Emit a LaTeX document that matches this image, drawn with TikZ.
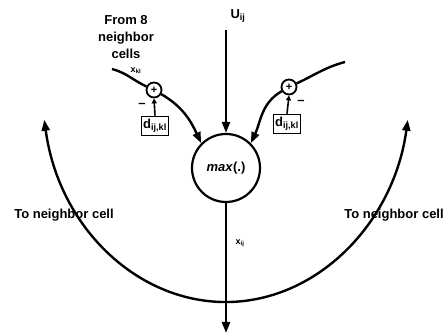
\documentclass[tikz,border=0pt]{standalone}
\usepackage{fontspec}
\setmainfont{Liberation Sans}
\usetikzlibrary{
    arrows.meta,
    positioning,
    calc
}
\tikzset{
    % Cell node style
    cell/.style={
        circle,
        draw,
        line width=2.2pt,
        minimum size=68pt,
        inner sep=0pt,
        font=\fontsize{13}{13}\selectfont\bfseries
    },
    % Summing junction style
    adder/.style={
        circle,
        draw,
        line width=1.8pt,
        minimum size=15pt,
        inner sep=0pt,
        font=\fontsize{11}{11}\selectfont\bfseries
    },
    % Weight box style
    weight/.style={
        rectangle,
        draw,
        line width=1.6pt,
        minimum width=27pt,
        minimum height=19pt,
        inner sep=1pt,
        font=\fontsize{13}{13}\selectfont\bfseries
    },
    % Arrow styles
    flow/.style={
        -{Triangle[length=11pt, width=8pt]},
        line width=2.4pt
    },
    feed/.style={
        -{Triangle[length=5pt, width=5pt]},
        line width=1.6pt
    },
    % Label styles
    label text/.style={
        font=\fontsize{13}{17}\selectfont\bfseries,
        align=center
    },
    small text/.style={
        font=\fontsize{9}{9}\selectfont\bfseries
    }
}

\begin{document}
\begin{tikzpicture}[x=1pt, y=1pt]
        \useasboundingbox (0,0) rectangle (448,336);

        % Cell and its inputs
        \node[cell] (cell) at (226,168) {\textit{max}(.)};
        \node[adder] (lplus) at (154,246) {+};
        \node[adder] (rplus) at (289,249) {+};
        \node[weight] (lw) at (155,210) {d\textsubscript{ij,kl}};
        \node[weight] (rw) at (287,212) {d\textsubscript{ij,kl}};

        % Labels
        \node[label text] (from) at (126,299) {From 8\\neighbor\\cells};
        \node[small text] (xkl) at (136,265) {x\textsubscript{kl}};
        \node[label text] (uin) at (238,320) {U\textsubscript{ij}};
        \node[small text] (xout) at (240,93) {x\textsubscript{ij}};
        \node[label text] (lto) at (64,121) {To neighbor cell};
        \node[label text] (rto) at (394,121) {To neighbor cell};
        \node[label text] (lminus) at (142,231) {--};
        \node[label text] (rminus) at (301,234) {--};

        \coordinate (utop) at (226,306);
        \coordinate (out) at (226,3);
        \coordinate (lstart) at (112,267);
        \coordinate (rstart) at (345,274);

        % Connectors
        \draw[flow] (utop) -- (cell.north);
        \draw[flow] (cell.south) -- (out);
        \draw[line width=2.4pt] (lstart) to[out=-15, in=155] (lplus);
        \draw[flow] (lplus) to[out=-30, in=115] (cell.135);
        \draw[line width=2.4pt] (rstart) to[out=195, in=25] (rplus);
        \draw[flow] (rplus) to[out=-150, in=65] (cell.45);
        \draw[feed] (lw.north) -- (lplus.south);
        \draw[feed] (rw.north) -- (rplus.south);

        % Output to the neighbor cells
        \draw[{Triangle[length=11pt, width=8pt]}-{Triangle[length=11pt, width=8pt]}, line width=2.4pt]
            (44.3,216.2) arc[start angle=189, end angle=351, x radius=184, y radius=216];
    \end{tikzpicture}
\end{document}
